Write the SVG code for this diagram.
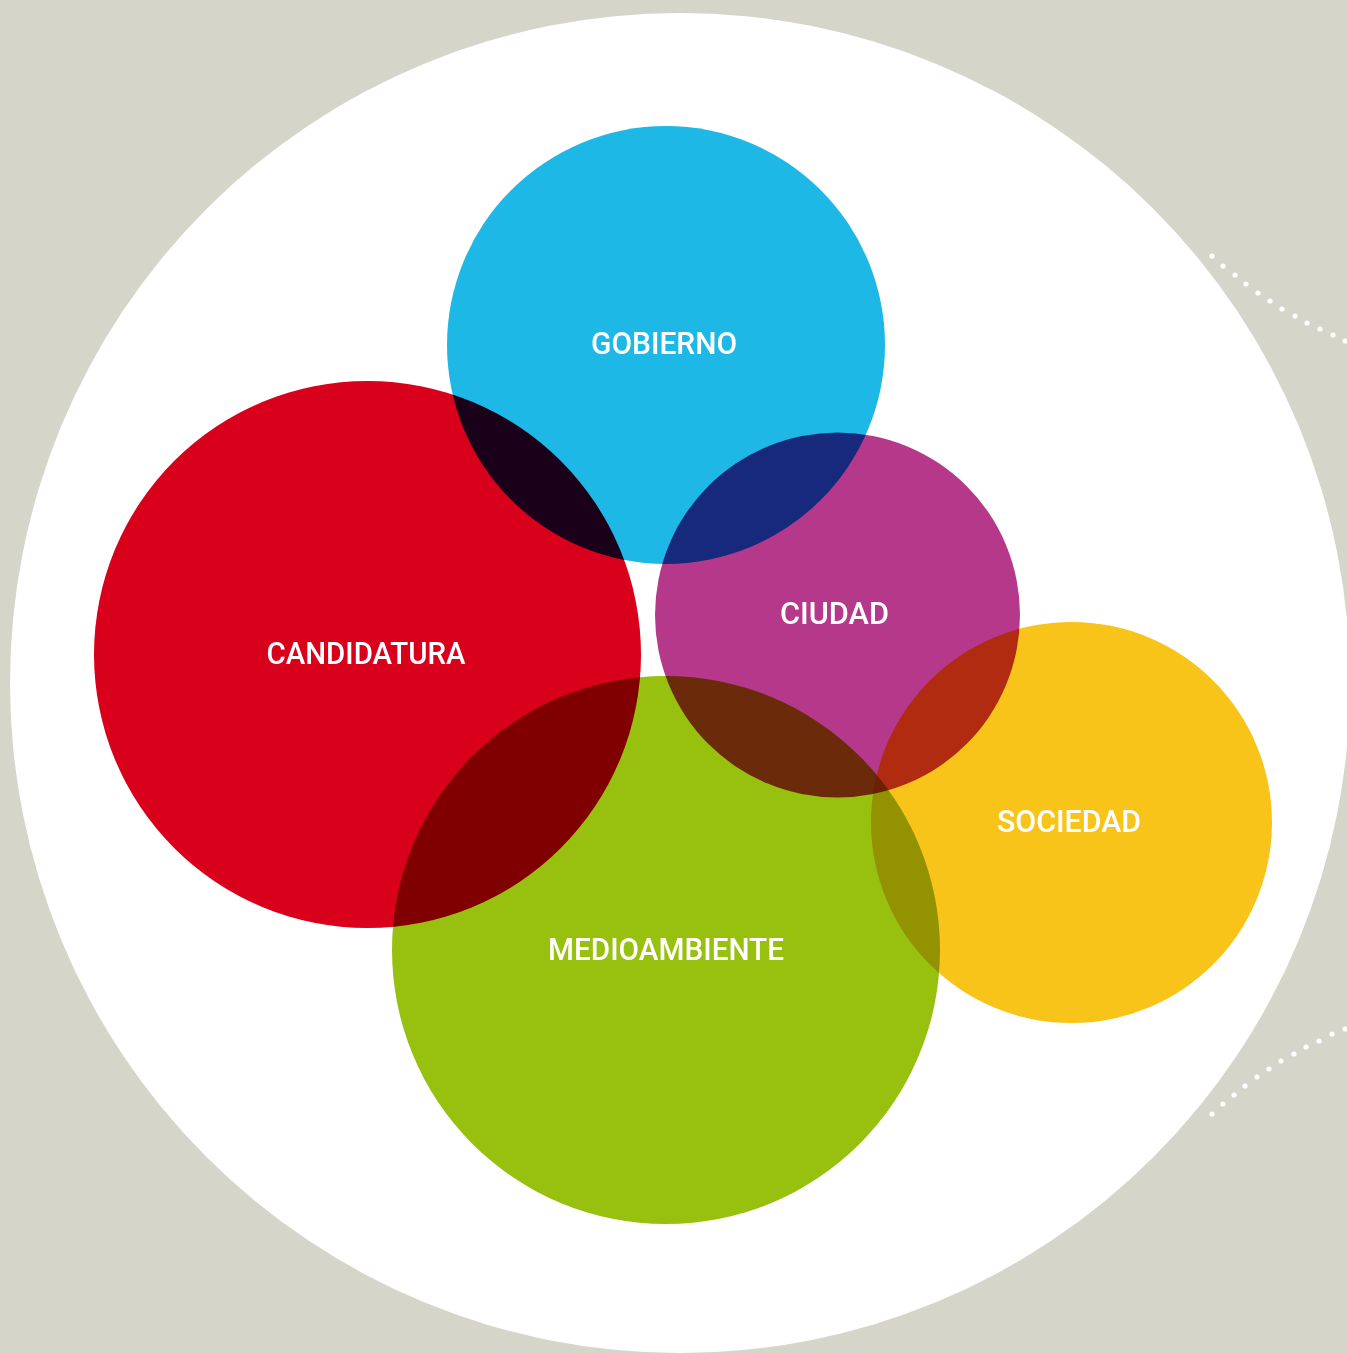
<svg xmlns="http://www.w3.org/2000/svg" width="1347" height="1353" viewBox="0 0 1347 1353">
<style>
.c{mix-blend-mode:multiply}
.t{font-family:Roboto,"Liberation Sans",sans-serif;font-weight:500;font-size:32px;fill:#fff;text-anchor:middle}
.d{fill:#fff}
</style>
<rect x="0" y="0" width="1347" height="1353" fill="#D6D5CA"/>
<circle cx="680" cy="683" r="670" fill="#fff"/>
<g id="dots-top">
<circle class="d" cx="1212" cy="256" r="2.6"/><circle class="d" cx="1223" cy="266" r="2.6"/><circle class="d" cx="1235" cy="275" r="2.6"/><circle class="d" cx="1246" cy="284" r="2.6"/><circle class="d" cx="1258" cy="293" r="2.6"/><circle class="d" cx="1270" cy="301" r="2.6"/><circle class="d" cx="1282" cy="309" r="2.6"/><circle class="d" cx="1295" cy="316" r="2.6"/><circle class="d" cx="1307" cy="323" r="2.6"/><circle class="d" cx="1320" cy="329" r="2.6"/><circle class="d" cx="1333" cy="335" r="2.6"/><circle class="d" cx="1345" cy="341" r="2.6"/>
</g>
<g id="dots-bottom">
<circle class="d" cx="1212" cy="1114" r="2.6"/><circle class="d" cx="1223" cy="1104" r="2.6"/><circle class="d" cx="1234" cy="1095" r="2.6"/><circle class="d" cx="1245" cy="1086" r="2.6"/><circle class="d" cx="1257" cy="1077" r="2.6"/><circle class="d" cx="1269" cy="1069" r="2.6"/><circle class="d" cx="1281" cy="1061" r="2.6"/><circle class="d" cx="1294" cy="1054" r="2.6"/><circle class="d" cx="1306" cy="1047" r="2.6"/><circle class="d" cx="1319" cy="1041" r="2.6"/><circle class="d" cx="1332" cy="1034" r="2.6"/><circle class="d" cx="1345" cy="1029" r="2.6"/>
</g>
<g id="connectors"></g>
<g id="circles">
<g id="gobierno"><circle class="c" cx="666" cy="345" r="219" fill="#1EB8E6"/></g>
<g id="candidatura"><circle class="c" cx="367.5" cy="654.5" r="273.5" fill="#D9001B"/></g>
<g id="ciudad"><circle class="c" cx="837.5" cy="615" r="182.5" fill="#B5388A"/></g>
<g id="sociedad"><circle class="c" cx="1071.5" cy="822.5" r="200.5" fill="#F8C41A"/></g>
<g id="medioambiente"><circle class="c" cx="666" cy="950" r="274" fill="#97C00F"/></g>
</g>
<g id="labels">
<text class="t" x="664" y="353.5" textLength="146" lengthAdjust="spacingAndGlyphs">GOBIERNO</text>
<text class="t" x="366" y="663.5" textLength="199" lengthAdjust="spacingAndGlyphs">CANDIDATURA</text>
<text class="t" x="834.5" y="623.5" textLength="109" lengthAdjust="spacingAndGlyphs">CIUDAD</text>
<text class="t" x="1069" y="831.5" textLength="144" lengthAdjust="spacingAndGlyphs">SOCIEDAD</text>
<text class="t" x="666" y="959.5" textLength="236" lengthAdjust="spacingAndGlyphs">MEDIOAMBIENTE</text>
</g>
</svg>
